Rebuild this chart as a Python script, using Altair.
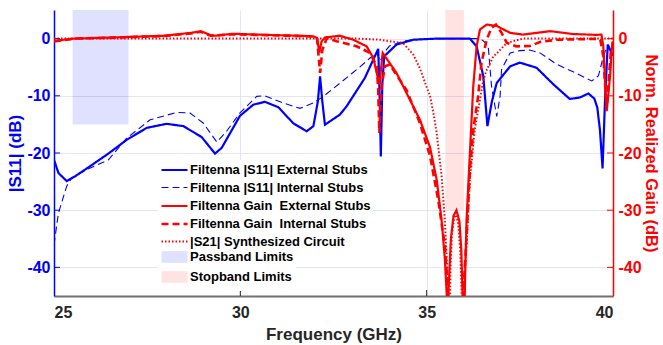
import altair as alt
import pandas as pd

FONT = "Liberation Sans"

N1 = "Filtenna |S11| External Stubs"
N2 = "Filtenna |S11| Internal Stubs"
N3 = "Filtenna Gain\u00a0 External Stubs"
N4 = "Filtenna Gain\u00a0 Internal Stubs"
N5 = "|S21| Synthesized Circuit"
NAMES = [N1, N2, N3, N4, N5]

# ---- data ----
s11_ext_f = [25.0, 25.12, 25.34, 25.56, 25.97, 26.46, 26.95, 27.49, 28.02, 28.47, 28.96, 29.32, 29.5,
             29.99, 30.35, 30.66, 31.02, 31.42, 31.78, 31.96, 32.08, 32.14, 32.2, 32.27, 32.67, 32.85,
             33.34, 33.70, 33.73, 33.77, 33.81, 33.86, 34.19, 34.64, 35.27, 36.16, 36.34, 36.52, 36.63,
             36.75, 36.88, 37.24, 37.5, 37.95, 38.40, 38.84, 39.11, 39.34, 39.5, 39.58, 39.65, 39.72,
             39.79, 39.86, 39.96, 40.0]
s11_ext_v = [-21.2, -23.5, -24.9, -24.1, -22.3, -20.1, -17.7, -15.6, -14.9, -15.3, -17.2, -20.1, -19.1,
             -13.5, -11.55, -11.05, -12.0, -14.8, -16.2, -15.3, -11.0, -6.6, -11.0, -15.05, -13.3, -11.85,
             -6.9, -1.8, -8.0, -20.6, -8.0, -3.1, -1.05, -0.2, 0.0, 0.0, -1.35, -6.6, -15.3,
             -11.0, -7.75, -4.85, -4.2, -5.1, -8.0, -10.55, -10.3, -9.6, -10.5, -12.1, -16.0, -22.7,
             -10.0, -1.05, -2.5, -3.0]

s11_int_f = [25.0, 25.12, 25.34, 25.47, 25.88, 26.46, 26.95, 27.58, 28.29, 28.65, 29.01, 29.37, 29.63,
             29.99, 30.44, 30.66, 31.15, 31.6, 31.96, 32.23, 32.67, 33.2, 33.48, 33.66, 33.75, 33.85,
             34.0, 34.4, 35.0, 36.34, 36.5, 36.65, 36.74, 36.88, 36.97, 37.01, 37.24, 37.5, 37.77,
             38.04, 38.49, 38.93, 39.43, 39.61, 39.74, 39.85, 40.0]
s11_int_v = [-36.0, -30.5, -25.8, -24.4, -22.9, -21.2, -17.4, -14.2, -12.9, -13.0, -14.8, -18.1, -16.2,
             -13.0, -10.1, -10.0, -11.25, -12.2, -11.25, -10.1, -7.8, -5.0, -3.4, -2.5, -4.0, -2.5,
             -1.3, -0.4, 0.0, 0.0, -0.3, -1.2, -8.3, -13.6, -10.1, -5.4, -2.5, -2.1, -2.0,
             -2.5, -4.5, -5.8, -7.4, -6.5, -3.1, -1.2, -2.5]

gain_ext_f = [25.0, 25.54, 26.79, 27.95, 28.67, 28.94, 29.2, 29.32, 29.81, 30.71, 31.6, 31.96, 32.06,
              32.12, 32.18, 32.27, 32.67, 33.03, 33.39, 33.57, 33.68, 33.74, 33.78, 33.82, 34.19, 34.55,
              34.82, 35.09, 35.27, 35.40, 35.49, 35.54, 35.555, 35.58, 35.65, 35.72, 35.8, 35.88, 35.93,
              35.965, 35.985, 36.03, 36.07, 36.16, 36.25, 36.34, 36.43, 36.61, 36.88, 37.24, 37.59,
              38.31, 38.93, 39.56, 39.69, 39.74, 39.83, 39.92, 39.98, 40.0]
gain_ext_v = [-0.4, 0.0, 0.25, 0.5, 1.0, 1.3, 0.6, 0.5, 0.85, 0.65, 0.5, 0.4, 0.1,
              -2.5, -0.5, 0.2, 0.5, -0.2, -1.35, -3.4, -6.6, -8.0, -5.0, -2.5, -6.0, -10.7,
              -14.2, -19.0, -24.7, -31.7, -38.7, -45.0, -60.0, -45.0, -35.0, -31.0, -30.0, -32.0, -37.0,
              -45.0, -60.0, -42.0, -31.7, -20.0, -8.35, -1.35, 1.6, 2.45, 2.2, 1.0, 0.7,
              1.3, 0.8, 0.65, 0.7, -1.35, -12.7, -6.6, -0.75, -0.5]

gain_int_f = [25.0, 25.54, 26.79, 27.95, 28.67, 28.94, 29.2, 29.81, 30.71, 31.6, 31.96, 32.06, 32.10,
              32.14, 32.2, 32.32, 32.58, 33.12, 33.48, 33.66, 33.70, 33.73, 33.76, 33.79, 33.88, 34.01,
              34.46, 34.82, 35.09, 35.31, 35.49, 35.58, 35.62, 35.95, 35.98, 36.07, 36.16, 36.25, 36.38,
              36.47, 36.61, 36.74, 36.86, 37.01, 37.15, 37.41, 37.77, 38.04, 38.49, 39.56, 39.66, 39.74,
              39.83, 39.94, 40.0]
gain_int_v = [-0.5, 0.0, 0.2, 0.45, 0.9, 1.2, 0.5, 0.75, 0.6, 0.45, 0.35, 0.0, -3.0,
              -6.0, -2.0, 0.1, -0.45, -1.35, -2.5, -4.85, -9.0, -16.5, -12.0, -8.35, -4.85, -4.55,
              -9.0, -14.8, -20.5, -28.2, -36.3, -45.0, -60.0, -60.0, -45.0, -34.6, -23.0, -16.0, -10.1,
              -4.25, -0.2, 1.9, 2.45, 1.0, -0.75, -1.35, -1.3, -0.6, -0.2, -0.05, -0.2, -3.1,
              -12.4, -2.5, -1.5]

s21_f = [25.0, 33.12, 33.75, 34.37, 34.64, 34.82, 35.0, 35.09, 35.18, 35.27, 35.4, 35.49, 35.55,
         35.58, 35.6, 35.64, 35.68, 35.76, 35.84, 35.9, 35.94, 35.955, 35.97, 36.07, 36.16, 36.29,
         36.43, 36.52, 36.61, 36.79, 36.88, 37.15, 37.59, 40.0]
s21_v = [0.0, 0.0, -0.2, -0.8, -2.8, -5.2, -8.5, -10.0, -13.0, -16.5, -24.0, -32.0, -40.0,
         -45.0, -60.0, -40.0, -34.0, -30.5, -32.0, -37.0, -45.0, -60.0, -45.0, -36.3, -24.7, -15.9,
         -10.7, -7.2, -5.5, -3.1, -2.6, -0.75, 0.0, 0.0]

band_names = ["Passband Limits", "Stopband Limits"]
band_f1 = [25.5, 35.5]
band_f2 = [27.0, 36.0]
band_lo = [-15, -30]
band_hi = [5, 5]

y_ticks = [-40, -30, -20, -10, 0]
x_ticks = [25, 30, 35, 40]

# ---- tables ----
def series_df(name, f, v):
    return pd.DataFrame({"f": f, "v": v, "series": name, "i": range(len(f))})

blue_df = pd.concat([series_df(N1, s11_ext_f, s11_ext_v), series_df(N2, s11_int_f, s11_int_v)])
red_df = pd.concat([series_df(N3, gain_ext_f, gain_ext_v), series_df(N4, gain_int_f, gain_int_v),
                    series_df(N5, s21_f, s21_v)])
band_df = pd.DataFrame({"name": band_names, "f1": band_f1, "f2": band_f2, "lo": band_lo, "hi": band_hi})
yt_df = pd.DataFrame({"t": y_ticks})
xt_df = pd.DataFrame({"t": x_ticks[1:3]})

BLUE = "#0000FF"
RED = "#FF0000"
GRID = "#E4E4F6"

W, H = 559, 286
xscale = alt.Scale(domain=[25, 40], nice=False, zero=False)
yscale = alt.Scale(domain=[-45, 5], nice=False, zero=False)

x_axis = alt.Axis(values=x_ticks, labelExpr="'' + datum.value", title="Frequency (GHz)",
                  grid=True, gridColor=GRID, gridWidth=1, ticks=False,
                  domainColor="#707070", domainWidth=2,
                  labelFont=FONT, labelFontSize=16, labelFontWeight="bold", labelColor="#262626",
                  labelPadding=8,
                  titleFont=FONT, titleFontSize=17, titleFontWeight="bold", titleColor="#262626",
                  titlePadding=6)

left_axis = alt.Axis(values=y_ticks, labelExpr="'' + datum.value", title="|S11| (dB)",
                     grid=True, gridColor=GRID, gridWidth=1, ticks=False,
                     domainColor=BLUE, domainWidth=1.5,
                     labelFont=FONT, labelFontSize=16, labelFontWeight="bold", labelColor=BLUE,
                     labelPadding=4,
                     titleFont=FONT, titleFontSize=17, titleFontWeight="bold", titleColor=BLUE,
                     titlePadding=2)

right_axis = alt.Axis(values=y_ticks, labelExpr="'' + datum.value", title="Norm. Realized Gain (dB)",
                      orient="right", grid=False, ticks=False,
                      domainColor=RED, domainWidth=1.5,
                      labelFont=FONT, labelFontSize=16, labelFontWeight="bold", labelColor=RED,
                      labelPadding=5,
                      titleFont=FONT, titleFontSize=16.5, titleFontWeight="bold", titleColor=RED,
                      titlePadding=1)

line_legend = alt.Legend(orient="none", legendX=104, legendY=150, title=None,
                         symbolType="M-1,0L3,0", symbolSize=169, labelOffset=14,
                         labelFont=FONT, labelFontSize=13, labelFontWeight="bold", labelColor="#000000",
                         labelLimit=400, rowPadding=3, padding=2, fillColor="white",
                         symbolFillColor="transparent")

stroke_enc = alt.Stroke("series:N", scale=alt.Scale(domain=NAMES, range=[BLUE, BLUE, RED, RED, RED]),
                        legend=line_legend)
dash_enc = alt.StrokeDash("series:N", scale=alt.Scale(domain=NAMES,
                          range=[[1, 0], [7, 4], [1, 0], [7, 4], [1.5, 2]]), legend=line_legend)
width_enc = alt.StrokeWidth("series:N", scale=alt.Scale(type="ordinal", domain=NAMES,
                            range=[2.2, 1.1, 2.2, 2.6, 2.0]), legend=line_legend)

bands = alt.Chart(band_df).mark_rect(strokeWidth=0).encode(
    x=alt.X("f1:Q", scale=xscale, axis=x_axis),
    x2="f2:Q",
    y=alt.Y("lo:Q", scale=yscale, axis=left_axis),
    y2="hi:Q",
    fill=alt.Fill("name:N", scale=alt.Scale(domain=band_names,
                  range=["rgba(0,0,255,0.12)", "rgba(255,0,0,0.11)"]),
                  legend=alt.Legend(orient="none", legendX=104, legendY=237, title=None,
                                    symbolType="M-1,-0.9L3,-0.9L3,0.9L-1,0.9Z", symbolSize=169,
                                    labelOffset=14, symbolStrokeWidth=2.6,
                                    symbolStrokeColor="transparent",
                                    labelFont=FONT, labelFontSize=13, labelFontWeight="bold",
                                    labelColor="#000000", rowPadding=-7, padding=2,
                                    fillColor="white")),
)

blue_lines = alt.Chart(blue_df).mark_line(clip=True, interpolate="linear").encode(
    x=alt.X("f:Q", scale=xscale),
    y=alt.Y("v:Q", scale=yscale),
    order="i:Q",
    stroke=stroke_enc, strokeDash=dash_enc, strokeWidth=width_enc,
)

left_ticks = alt.Chart(yt_df).mark_rule(color=BLUE, strokeWidth=1).encode(
    y=alt.Y("t:Q", scale=yscale), x=alt.value(0), x2=alt.value(6))

bottom_ticks = alt.Chart(xt_df).mark_rule(color="#262626", strokeWidth=1).encode(
    x=alt.X("t:Q", scale=xscale), y=alt.value(H), y2=alt.value(H - 6))

left_group = alt.layer(bands, blue_lines, left_ticks, bottom_ticks)

red_lines = alt.Chart(red_df).mark_line(clip=True, interpolate="linear").encode(
    x=alt.X("f:Q", scale=xscale),
    y=alt.Y("v:Q", scale=yscale, axis=right_axis),
    order="i:Q",
    stroke=stroke_enc, strokeDash=dash_enc, strokeWidth=width_enc,
)

right_ticks = alt.Chart(yt_df).mark_rule(color=RED, strokeWidth=1).encode(
    y=alt.Y("t:Q", scale=yscale), x=alt.value(W - 6), x2=alt.value(W))

right_group = alt.layer(red_lines, right_ticks)

chart = alt.layer(left_group, right_group).resolve_scale(y="independent").properties(
    width=W, height=H,
    autosize=alt.AutoSizeParams(type="none"),
    padding={"left": 54, "top": 10, "right": 50, "bottom": 49},
    background="white",
).configure_view(stroke=None)

chart.save("out.html", embed_options={"renderer": "svg", "actions": False})
